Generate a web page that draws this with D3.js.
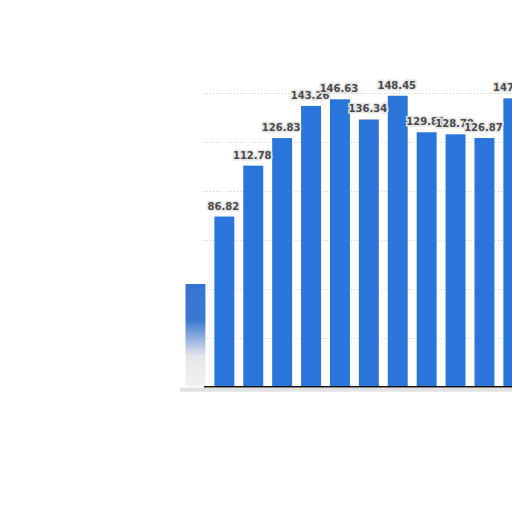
<!DOCTYPE html>
<html>
<head>
<meta charset="utf-8">
<script src="https://cdn.jsdelivr.net/npm/d3@7"></script>
<style>
  body { margin: 0; background: #fff; }
  svg { display: block; }
</style>
</head>
<body>
<div id="chart"></div>
<script>
// values (first bar is faded, last one is cut at the edge)
var categories = ['1', '2', '3', '4', '5', '6', '7', '8', '9', '10', '11', '12'];
var values = [52.4, 86.82, 112.78, 126.83, 143.26, 146.63, 136.34, 148.45, 129.81, 128.79, 126.87, 147.12];
var yTicks = [0, 25, 50, 75, 100, 125, 150];

var width = 512, height = 512;

var svg = d3.select('#chart').append('svg')
    .attr('width', width)
    .attr('height', height);

var defs = svg.append('defs');
var fade = defs.append('linearGradient')
    .attr('id', 'fade')
    .attr('x1', 0).attr('y1', 0).attr('x2', 0).attr('y2', 1);
fade.append('stop').attr('offset', '0%').attr('stop-color', '#3674d2');
fade.append('stop').attr('offset', '35%').attr('stop-color', '#3a78d4');
fade.append('stop').attr('offset', '70%').attr('stop-color', '#e4e6ea');
fade.append('stop').attr('offset', '100%').attr('stop-color', '#f2f2f2');

var x = d3.scaleBand()
    .domain(categories)
    .range([181, 181 + categories.length * 28.9])
    .paddingInner(0.31)
    .paddingOuter(0.155);

var y = d3.scaleLinear()
    .domain([0, 150])
    .range([386.7, 92.7]);

var plotLeft = 204;

// dotted grid
svg.append('g')
    .attr('class', 'grid')
    .selectAll('line')
    .data(yTicks.slice(1))
    .enter()
    .append('line')
    .attr('x1', plotLeft)
    .attr('x2', width)
    .attr('y1', function(d) { return Math.round(y(d)) + 0.5; })
    .attr('y2', function(d) { return Math.round(y(d)) + 0.5; })
    .attr('stroke', '#cfcfcf')
    .attr('stroke-dasharray', '1,2');

// bars
svg.append('g')
    .selectAll('rect')
    .data(values)
    .enter()
    .append('rect')
    .attr('x', function(d, i) { return x(categories[i]); })
    .attr('y', function(d) { return y(d); })
    .attr('width', x.bandwidth())
    .attr('height', function(d) { return y(0) - y(d); })
    .attr('fill', function(d, i) { return i === 0 ? 'url(#fade)' : '#2a75d9'; });

// baseline with its soft grey shadow
svg.append('line')
    .attr('x1', plotLeft - 24).attr('x2', width)
    .attr('y1', y(0) + 3).attr('y2', y(0) + 3)
    .attr('stroke', '#e2e2e2')
    .attr('stroke-width', 4);
svg.append('line')
    .attr('x1', plotLeft).attr('x2', width)
    .attr('y1', y(0)).attr('y2', y(0))
    .attr('stroke', '#111')
    .attr('stroke-width', 1.5);

// value labels (the faded first bar has none)
svg.append('g')
    .selectAll('text')
    .data(values)
    .enter()
    .filter(function(d, i) { return i > 0; })
    .append('text')
    .attr('x', function(d, i) { return x(categories[i + 1]) + x.bandwidth() / 2 - 1; })
    .attr('y', function(d) { return y(d) - 7; })
    .attr('text-anchor', 'middle')
    .attr('font-family', 'DejaVu Sans, sans-serif')
    .attr('font-size', 10)
    .attr('font-weight', 600)
    .attr('fill', '#4a4a4a')
    .attr('stroke', '#e6e6e6')
    .attr('stroke-width', 3)
    .attr('paint-order', 'stroke')
    .text(function(d) { return d.toFixed(2); });
</script>
</body>
</html>
